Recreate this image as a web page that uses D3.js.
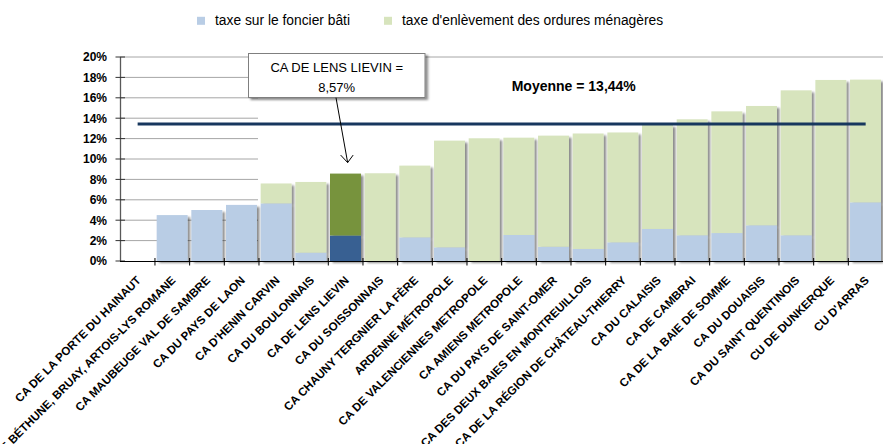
<!DOCTYPE html>
<html><head><meta charset="utf-8">
<script src="https://cdn.jsdelivr.net/npm/d3@7"></script>
<style>
html,body{margin:0;padding:0;background:#fff;}
svg{display:block;font-family:"Liberation Sans",Arial,sans-serif;}
</style></head>
<body><svg id="c" width="883" height="444"></svg>
<script>
const categories = ["CA DE LA PORTE DU HAINAUT","CA DE BÉTHUNE, BRUAY, ARTOIS-LYS ROMANE","CA MAUBEUGE VAL DE SAMBRE","CA DU PAYS DE LAON","CA D'HENIN CARVIN","CA DU BOULONNAIS","CA DE LENS LIEVIN","CA DU SOISSONNAIS","CA CHAUNY TERGNIER LA FÈRE","ARDENNE MÉTROPOLE","CA DE VALENCIENNES METROPOLE","CA AMIENS METROPOLE","CA DU PAYS DE SAINT-OMER","CA DES DEUX BAIES EN MONTREUILLOIS","CA DE LA RÉGION DE CHÂTEAU-THIERRY","CA DU CALAISIS","CA DE CAMBRAI","CA DE LA BAIE DE SOMME","CA DU DOUAISIS","CA DU SAINT QUENTINOIS","CU DE DUNKERQUE","CU D'ARRAS"];
const foncierBati = [0,4.5,5.0,5.5,5.65,0.82,2.5,0,2.32,1.34,0,2.55,1.4,1.18,1.83,3.14,2.52,2.74,3.5,2.52,0,5.75];
const ordures = [0,0,0,0,1.95,6.93,6.07,8.6,7.03,10.46,12.03,9.54,10.89,11.32,10.77,10.19,11.37,11.93,11.7,14.21,17.75,12.03];
const yTicks = [0,2,4,6,8,10,12,14,16,18,20];
const moyenne = 13.44;
const highlight = "CA DE LENS LIEVIN";
const seriesNames = ["taxe sur le foncier bâti","taxe d'enlèvement des ordures ménagères"];

const svg = d3.select("#c");
const x = d3.scaleBand().domain(categories).range([120.3, 883]);
const y = d3.scaleLinear().domain([0,20]).range([261, 57]);
const bw = x.bandwidth();

const defs = svg.append("defs");
const f = defs.append("filter").attr("id","sh").attr("x","-20%").attr("y","-10%").attr("width","150%").attr("height","130%");
f.append("feDropShadow").attr("dx",2.5).attr("dy",2).attr("stdDeviation",0.9).attr("flood-color","#000").attr("flood-opacity",0.45);

// gridlines (partially visible as in the original)
svg.append("g").selectAll("line").data(yTicks.filter(d=>d>0)).join("line")
  .attr("x1",120).attr("x2",d=>d===20?883:258)
  .attr("y1",d=>y(d)).attr("y2",d=>y(d))
  .attr("stroke","#a6a6a6").attr("stroke-width",1);

// bars
const colors = {fb:"#B9CDE5", om:"#D7E4BD", fbH:"#376092", omH:"#77933C"};
const g = svg.append("g").selectAll("g").data(categories.map((c,i)=>({c,fb:foncierBati[i],om:ordures[i]})))
  .join("g").attr("filter","url(#sh)");
g.filter(d=>d.fb>0).append("rect")
  .attr("x",d=>x(d.c)+1.7).attr("width",bw-3.7)
  .attr("y",d=>y(d.fb)).attr("height",d=>y(0)-y(d.fb))
  .attr("fill",d=>d.c===highlight?colors.fbH:colors.fb);
g.filter(d=>d.om>0).append("rect")
  .attr("x",d=>x(d.c)+1.7).attr("width",bw-3.7)
  .attr("y",d=>y(d.fb+d.om)).attr("height",d=>y(d.fb)-y(d.fb+d.om))
  .attr("fill",d=>d.c===highlight?colors.omH:colors.om);

// mean line
svg.append("line")
  .attr("x1",x(categories[0])+bw/2).attr("x2",x(categories[categories.length-1])+bw/2)
  .attr("y1",y(moyenne)).attr("y2",y(moyenne))
  .attr("stroke","#17375E").attr("stroke-width",3);
svg.append("text").attr("x",511.7).attr("y",91)
  .attr("font-size","14px").attr("font-weight","bold").attr("fill","#000")
  .text("Moyenne = " + moyenne.toFixed(2).replace(".",",") + "%");

// y axis
const ya = svg.append("g");
ya.append("line").attr("x1",120.5).attr("x2",120.5).attr("y1",y(0)).attr("y2",y(20)).attr("stroke","#595959").attr("stroke-width",1.3);
ya.selectAll("line.t").data(yTicks).join("line").attr("class","t")
  .attr("x1",115.5).attr("x2",125).attr("y1",d=>y(d)).attr("y2",d=>y(d)).attr("stroke","#333");
ya.selectAll("text").data(yTicks).join("text")
  .attr("x",107).attr("y",d=>y(d)).attr("dy","0.36em").attr("text-anchor","end")
  .attr("font-size","12px").attr("font-weight","bold").attr("fill","#000")
  .text(d=>d+"%");

// x axis
const xa = svg.append("g");
xa.append("line").attr("x1",120).attr("x2",883).attr("y1",y(0)+0.5).attr("y2",y(0)+0.5).attr("stroke","#000").attr("stroke-width",1.2);
xa.selectAll("line.t").data(categories.slice(1)).join("line").attr("class","t")
  .attr("x1",d=>x(d)).attr("x2",d=>x(d)).attr("y1",y(0)-3).attr("y2",y(0)+4.5).attr("stroke","#000");
xa.selectAll("text").data(categories).join("text")
  .attr("transform",d=>`translate(${x(d)+bw/2+4},${y(0)+20}) rotate(-45)`)
  .attr("text-anchor","end").attr("font-size","11.6px").attr("font-weight","bold").attr("fill","#000")
  .text(d=>d);

// annotation box
const hi = categories.indexOf(highlight);
const hx = x(highlight)+bw/2;
const ann = svg.append("g");
ann.append("rect").attr("x",248.5).attr("y",53.5).attr("width",176.5).attr("height",44)
  .attr("fill","#fff").attr("stroke","#7f7f7f").attr("stroke-width",1)
  .attr("filter","url(#sh)");
ann.append("text").attr("x",336.7).attr("y",72.3).attr("text-anchor","middle").attr("font-size","13px").attr("fill","#000").text(highlight+" =");
ann.append("text").attr("x",336.7).attr("y",91.7).attr("text-anchor","middle").attr("font-size","13px").attr("fill","#000")
  .text((foncierBati[hi]+ordures[hi]).toFixed(2).replace(".",",")+"%");
const tipY = y(foncierBati[hi]+ordures[hi]) - 11;
const tipX = hx + 2;
ann.append("line").attr("x1",336).attr("y1",97.7).attr("x2",tipX).attr("y2",tipY).attr("stroke","#000").attr("stroke-width",1);
ann.append("path").attr("d",`M${tipX-7},${tipY-7.5}L${tipX},${tipY}L${tipX+5.5},${tipY-7.5}`)
  .attr("fill","none").attr("stroke","#000").attr("stroke-width",1);

// legend
const leg = svg.append("g");
const lx = [197, 384];
[colors.fb, colors.om].forEach((c,i)=>{
  leg.append("rect").attr("x",lx[i]).attr("y",16.8).attr("width",8).attr("height",8).attr("fill",c);
  leg.append("text").attr("x",lx[i]+18).attr("y",25).attr("font-size","13.8px").attr("fill","#000").text(seriesNames[i]);
});
</script></body></html>
